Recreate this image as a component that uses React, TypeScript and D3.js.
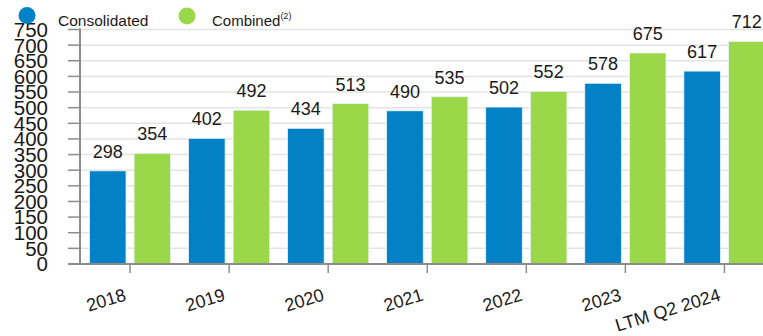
import React from "react";
import * as d3 from "d3";

const categories = ["2018", "2019", "2020", "2021", "2022", "2023", "LTM Q2 2024"];
const consolidated = [298, 402, 434, 490, 502, 578, 617];
const combined = [354, 492, 513, 535, 552, 675, 712];
const yTicks = d3.range(0, 751, 50);

const W = 763;
const H = 336;
const BLUE = "#0281C6";
const GREEN = "#9BD849";
const FONT = "'Liberation Sans', Arial, sans-serif";

export default function App() {
  const x = d3.scaleBand<string>().domain(categories).range([80.5, 774]).paddingInner(0.18).paddingOuter(0.09);
  const sub = d3.scaleBand<string>().domain(["a", "b"]).range([0, x.bandwidth()]).paddingInner(0.18);
  const y = d3.scaleLinear().domain([0, 750]).range([264, 29.5]);
  const axisX = 80;
  return (
    <svg width={W} height={H} style={{ position: "absolute", left: 0, top: 0 }} fontFamily={FONT}>
      <rect width={W} height={H} fill="#fff" />
      {yTicks.map((t) => (
        <g key={t}>
          <line x1={axisX} x2={W} y1={y(t)} y2={y(t)} stroke="#e3e3e3" strokeWidth={1.5} />
          <line x1={68} x2={axisX} y1={y(t)} y2={y(t)} stroke="#8c8c8c" strokeWidth={1.5} />
          <text x={48} y={y(t)} dy="0.36em" textAnchor="end" fontSize={20.5} fill="#1a1a1a">{t}</text>
        </g>
      ))}
      {categories.map((c, i) => {
        const x0 = x(c)!;
        const cx = x0 + x.bandwidth() / 2;
        const bars = [
          { k: "a", v: consolidated[i], col: BLUE },
          { k: "b", v: combined[i], col: GREEN },
        ];
        return (
          <g key={c}>
            {bars.map((b) => (
              <g key={b.k}>
                <rect x={x0 + sub(b.k)!} y={y(b.v)} width={sub.bandwidth()} height={y(0) - y(b.v)} fill={b.col} stroke="#e8f4fb" strokeWidth={0.8} />
                <text x={x0 + sub(b.k)! + sub.bandwidth() / 2} y={y(b.v) - 13} textAnchor="middle" fontSize={18} fill="#1a1a1a">{b.v}</text>
              </g>
            ))}
            <line x1={cx} x2={cx} y1={264} y2={273} stroke="#8c8c8c" strokeWidth={1.5} />
            <text transform={`translate(${cx - 3},${300}) rotate(-17)`} textAnchor="end" fontSize={18} fill="#1a1a1a">{c}</text>
          </g>
        );
      })}
      <line x1={axisX} x2={axisX} y1={y(750) - 1} y2={264} stroke="#8c8c8c" strokeWidth={2} />
      <line x1={68} x2={W} y1={264} y2={264} stroke="#8c8c8c" strokeWidth={2} />
      <circle cx={27} cy={15.5} r={8.5} fill={BLUE} />
      <text x={58} y={26} fontSize={15.5} fill="#1a1a1a">Consolidated</text>
      <circle cx={187} cy={16} r={8.5} fill={GREEN} />
      <text x={212} y={26} fontSize={15} fill="#1a1a1a">
        Combined<tspan fontSize={9} dy={-7}>(2)</tspan>
      </text>
    </svg>
  );
}
